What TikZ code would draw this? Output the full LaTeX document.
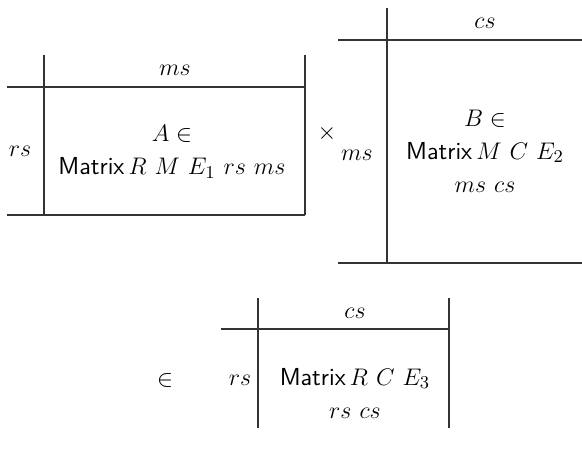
\documentclass[tikz,border=0pt]{standalone}
\usepackage{amsmath}
\begin{document}
\begin{tikzpicture}[x=0.5pt,y=-0.5pt,
  rule/.style={draw=black!80,line width=0.6pt},
  lbl/.style={inner sep=0pt,font=\fontsize{12.3}{16.5}\selectfont},
  body/.style={inner sep=0pt,align=center,font=\fontsize{12.3}{16.5}\selectfont}]
\useasboundingbox (0,0) rectangle (582,457);

% first factor: A
\draw[rule] (44,55) -- (44,215);
\draw[rule] (305,55) -- (305,215);
\draw[rule] (7,87) -- (305,87);
\draw[rule] (7,215) -- (305,215);
\node[lbl] (acol) at (175,70) {$ms$};
\node[lbl] (arow) at (20,151) {$rs$};
\node[body] (abody) at (172,152) {$A\in$\\\textsf{Matrix}\,$R$\ $M$\ $E_1$\ $rs$\ $ms$};

\node[lbl] (times) at (327,133) {$\times$};

% second factor: B
\draw[rule] (387,8) -- (387,263);
\draw[rule] (338,40) -- (582,40);
\draw[rule] (338,263) -- (582,263);
\node[lbl] (bcol) at (485,23) {$cs$};
\node[lbl] (brow) at (357,155) {$ms$};
\node[body] (bbody) at (485,151) {$B\in$\\\textsf{Matrix}\,$M$\ $C$\ $E_2$\\$ms$\ $cs$};

\node[lbl] (elem) at (165,380) {$\in$};

% product: C
\draw[rule] (258,298) -- (258,428);
\draw[rule] (449,298) -- (449,428);
\draw[rule] (221,329) -- (449,329);
\node[lbl] (ccol) at (355,313) {$cs$};
\node[lbl] (crow) at (240,380) {$rs$};
\node[body] (cbody) at (355,393) {\textsf{Matrix}\,$R$\ $C$\ $E_3$\\$rs$\ $cs$};
\end{tikzpicture}
\end{document}
